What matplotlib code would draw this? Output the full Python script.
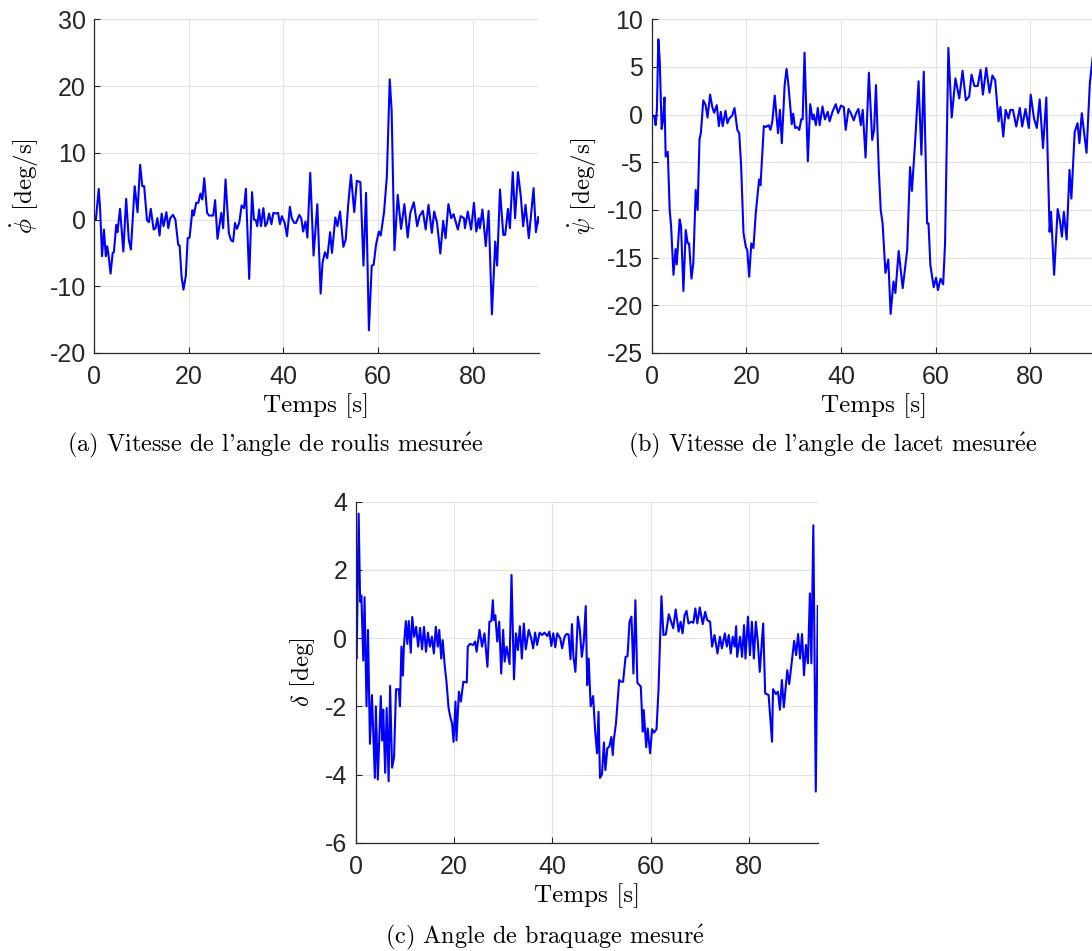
import matplotlib
matplotlib.use('Agg')
import matplotlib.pyplot as plt

# --- data --------------------------------------------------------------
# (a) roll rate [deg/s]
t_roll = [0, 0.4, 1.0, 1.3, 1.7, 2.1, 2.5, 2.8, 3.1, 3.5, 3.95, 4.2, 4.7, 4.95, 5.5, 6.2, 6.8,
          7.35, 7.8, 8.6, 9.2, 9.75, 10.2, 10.6, 11.2, 11.6, 12.0, 12.6, 13.0, 13.4, 13.85, 14.3,
          14.7, 15.3, 15.7, 16.1, 16.7, 17.2, 17.8, 18.1, 18.5, 18.9, 19.4, 19.8, 20.2, 20.8, 21.1,
          21.6, 22.05, 22.5, 22.9, 23.3, 23.9, 24.3, 25.2, 25.6, 26.1, 26.9, 27.3, 27.8, 28.5,
          28.95, 29.4, 29.8, 30.2, 30.7, 31.2, 31.7, 32.1, 32.8, 33.4, 33.8, 34.2, 34.5, 34.9,
          35.3, 35.8, 36.2, 36.6, 37.0, 37.5, 37.9, 38.4, 38.9, 39.3, 39.7, 40.3, 40.8, 41.4,
          41.8, 42.3, 42.7, 43.4, 43.8, 44.2, 44.7, 45.1, 45.7, 46.4, 47.2, 47.9, 48.3, 48.8,
          49.3, 49.9, 50.3, 51.0, 51.45, 52.0, 52.7, 53.2, 53.7, 54.3, 55.0, 55.55, 56.3, 56.95,
          57.5, 58.1, 58.7, 59.1, 59.6, 60.2, 60.6, 61.3, 61.9, 62.5, 62.9, 63.5, 64.2, 64.9,
          65.6, 66.3, 66.85, 67.6, 68.3, 68.8, 69.5, 70.1, 70.7, 71.4, 71.9, 72.5, 73.2, 73.8,
          74.3, 74.9, 75.5, 76.0, 76.9, 77.5, 78.2, 78.4, 79.0, 79.7, 80.3, 80.8, 81.3, 81.55,
          82.1, 82.8, 83.4, 84.1, 84.8, 85.2, 85.8, 86.5, 86.9, 87.5, 87.9, 88.5, 89.0, 89.6,
          90.2, 90.7, 91.2, 91.9, 92.9, 93.4, 93.9, 94.3]
roll_rate = [0, 0, 4.6, 1.5, -5.5, -1.5, -5.5, -4, -5.5, -8.1, -5, -4.9, -0.8, -1.9, 1.6, -4.8,
             3.1, -3, -4.5, 5, 1.1, 8.2, 5, 5, -0.1, -0.4, 1.6, -1.5, -1.3, 0.2, -2.4, 0.9, -1,
             1.1, -1.3, 0.2, 0.7, 0, -3.8, -3.9, -8.5, -10.5, -8.5, -2.8, -2.7, 1.4, 0.6, 2.5,
             2.5, 3.9, 3, 6.2, 1, 0.6, 0.6, 2.9, -2.9, 1, -1.3, 6, -2, -3.1, -3.3, -0.5, -1.4,
             -0.5, 2.1, 1.7, 4.6, -8.9, 4.1, 0, -0.1, -1, 1.5, -1, 1.7, -1, -0.5, 0.9, -0.7, 1,
             0.9, 1, -0.7, 0.5, -0.5, -2.5, 1.9, 0.2, -0.5, -0.5, 0.7, 0.2, -1.8, -0.3, -2.7, 7,
             -5.4, 2.3, -11.1, -6.5, -4.9, -5.8, -1.9, -5, 0.3, -1, 1.2, -4.1, -3, 2, 6.7, 1.1,
             5.8, 5.6, -6.9, 4, -16.6, -6.9, -6.8, -3.8, -1.8, -2.4, 1.1, 6.5, 21, 16.4, -4.6,
             3.7, -1.4, 2.3, -2.7, 1, 2.6, -1, 0.5, 1.3, -1.5, 2.2, -2, 1.2, -0.5, -5.1, -0.2,
             -2.8, 2.3, 0.2, 0.8, -1.5, 0.5, 0.2, -1.3, 1.2, -1.5, 2.5, -1.8, 0.2, -1.3, 1.5, -4,
             1.3, -14.2, -3.3, -6.9, 4.5, -2.3, -2.3, 1.6, -1.3, 7.1, 0.2, 7.1, 3.5, -1, 2.2,
             -2.8, 4.7, -1.9, 0.4, -1]

# (b) yaw rate [deg/s]
t_yaw = [0, 0.56, 0.84, 1.1, 1.4, 1.7, 2.1, 2.4, 2.7, 2.95, 3.4, 3.8, 4.1, 4.6, 5.05, 5.3, 5.9,
         6.2, 6.7, 7.2, 7.6, 7.9, 8.4, 8.8, 9.3, 9.7, 10.1, 10.4, 10.9, 11.4, 11.8, 12.35, 12.8,
         13.2, 13.75, 14.2, 14.6, 15.0, 15.6, 16.0, 16.4, 17.0, 17.5, 18.1, 18.5, 18.9, 19.4,
         19.9, 20.2, 20.6, 21.05, 21.5, 22.0, 22.7, 23.0, 23.7, 24.1, 24.7, 25.1, 25.5, 26.0,
         26.7, 27.1, 27.5, 28.1, 28.5, 28.9, 29.6, 29.9, 30.3, 30.7, 31.2, 31.6, 31.9, 32.3,
         33.0, 33.5, 34.0, 34.25, 34.7, 35.1, 35.5, 36.1, 36.6, 37.2, 37.6, 38.2, 38.9, 39.4,
         40.0, 40.6, 41.0, 41.6, 42.1, 42.7, 43.2, 43.7, 44.2, 44.6, 45.2, 45.9, 46.6, 47.0,
         47.4, 48.0, 48.4, 48.8, 49.4, 50.0, 50.5, 51.1, 51.5, 52.2, 53.05, 54.0, 54.6, 55.0,
         55.7, 56.4, 57.0, 57.5, 58.2, 58.5, 58.9, 59.6, 60.1, 60.5, 61.05, 61.6, 62.0, 62.7,
         63.4, 64.2, 65.0, 65.7, 66.4, 67.1, 67.6, 68.2, 68.9, 69.5, 70.0, 70.7, 71.4, 72.0,
         72.6, 73.3, 73.7, 74.3, 74.8, 75.4, 75.8, 76.35, 77.05, 77.8, 78.3, 79.0, 79.7, 80.1,
         80.8, 81.4, 82.0, 82.7, 83.4, 83.7, 84.1, 84.4, 85.05, 85.8, 86.3, 86.7, 87.1, 87.7,
         88.3, 88.7, 89.4, 90.0, 90.4, 90.9, 91.9, 92.6, 93.2, 94.0]
yaw_rate = [0, -0.2, -1.1, 0.5, 7.9, 5.7, -1.5, -0.6, 1.8, -4.4, -3.9, -10, -11.7, -16.8, -14.1,
            -15.7, -11, -11.7, -18.5, -12.1, -13.5, -13.5, -17.2, -15.6, -7.9, -10, -2.6, -1.9,
            1.5, 1, -0.3, 2.1, 0.8, 0.2, 1, -1.2, 0.3, -1.2, 0.4, -0.9, -0.4, -0.1, 0.7, -1.6,
            -1.95, -5.4, -12.4, -13.9, -14.2, -17, -13.5, -14, -10.3, -6.8, -7.4, -1.2, -1.3,
            -1.1, -1.6, -0.7, 2, -1.95, 0.5, -3, 3.1, 4.8, 3.1, -1, 0.1, -1.4, -1.3, -1.6, -0.5,
            -0.5, 6.5, -4.9, 1.1, -0.5, 0, -1.1, 0.7, -1.1, 0.85, -0.5, 0.3, -0.7, 0.3, 1.1,
            0.15, 0.95, 0.8, -1.6, 0.6, 0.15, -0.6, 0.15, 0.6, -1.1, 0.5, -4.5, 4.4, -2.65, -1.6,
            3.1, -5.8, -10, -11.4, -16.6, -15.2, -20.9, -17.5, -18.7, -14.3, -18.2, -14.2, -5.5,
            -8, -2.65, 3.5, -4.2, 4.5, -11.4, -11.4, -15.8, -18.1, -17.1, -18.4, -17.2, -17.8,
            -13.5, 7, -0.3, 3.8, 1.7, 4.6, 1.5, 1.9, 4.2, 3, 3, 4.7, 2.1, 4.9, 2.3, 4.1, 3.6,
            -0.7, 0.8, -2.3, 0.5, -0.4, 0.5, 0.5, -1.25, 0.7, -1.25, 0.6, -1.4, 2.1, -0.4, -1.4,
            1.6, -3.5, 1.8, -4.6, -12.3, -10.2, -16.8, -9.9, -11.2, -12.8, -10.2, -13.1, -5.8,
            -8.8, -1.8, -0.9, -3, 0.15, -4, 3.3, 6.0, 5.0]

# (c) steering angle [deg]
t_steer = [0, 0.2, 0.6, 0.9, 1.15, 1.55, 1.8, 2.2, 2.5, 2.9, 3.3, 3.9, 4.1, 4.5, 5.1, 5.4, 5.6,
           6.0, 6.3, 6.7, 7.0, 7.4, 7.8, 8.2, 8.75, 9.0, 9.3, 9.6, 9.8, 10.2, 10.5, 10.8, 11.2,
           11.5, 11.9, 12.3, 12.7, 13.1, 13.5, 13.9, 14.3, 14.7, 15.1, 15.5, 15.9, 16.3, 16.7,
           17.0, 17.4, 17.7, 18.1, 18.5, 18.9, 19.3, 19.6, 19.9, 20.3, 20.5, 21.0, 21.4, 21.9,
           22.6, 22.8, 23.25, 23.9, 24.3, 24.6, 25.2, 25.7, 26.2, 26.8, 27.2, 27.6, 27.9, 28.1,
           28.4, 28.8, 29.2, 29.6, 30.0, 30.3, 30.7, 31.3, 31.7, 32.2, 32.6, 33.0, 33.4, 33.8,
           34.2, 34.6, 35.2, 35.7, 36.1, 36.5, 36.9, 37.4, 37.9, 38.4, 39.0, 39.4, 39.8, 40.2,
           40.6, 41.0, 41.6, 42.0, 42.5, 42.9, 43.3, 43.7, 44.0, 44.3, 44.7, 45.2, 45.6, 46.0,
           46.4, 46.8, 47.1, 47.4, 47.8, 48.3, 48.7, 49.1, 49.4, 49.7, 50.1, 50.5, 50.8, 51.2,
           51.6, 52.0, 52.3, 52.5, 52.95, 53.6, 54.0, 54.4, 54.9, 55.3, 55.7, 56.1, 56.5, 56.9,
           57.3, 58.0, 58.4, 58.6, 59.1, 59.4, 59.9, 60.3, 60.7, 61.2, 61.6, 62.2, 62.6, 63.1,
           63.7, 64.1, 64.6, 65.1, 65.7, 66.1, 66.5, 66.9, 67.3, 67.7, 68.3, 68.7, 69.1, 69.5,
           70.0, 70.6, 71.1, 71.5, 72.1, 72.5, 73.0, 73.6, 74.1, 74.5, 75.1, 75.5, 75.9, 76.3,
           76.7, 77.1, 77.4, 77.6, 78.2, 78.6, 79.0, 79.3, 79.8, 80.2, 80.6, 81.0, 81.4, 81.8,
           82.2, 82.9, 83.3, 84.0, 84.7, 84.9, 85.5, 85.9, 86.3, 86.7, 87.1, 87.8, 88.2, 88.8,
           89.2, 89.6, 90.0, 90.4, 90.8, 91.2, 91.6, 92.0, 92.4, 92.7, 93.1, 93.6, 94.0]
steer = [-0.55, -0.6, 3.65, 1.07, 1.25, -0.66, 1.2, -2.0, 0.24, -3.1, -1.67, -4.1, -2.0, -4.15,
         -1.7, -3.0, -2.1, -3.95, -2.05, -4.2, -1.4, -3.8, -3.5, -1.5, -1.5, -2.0, -0.25, -1.1,
         -0.25, 0.5, -0.17, 0.5, -0.43, 0.62, 0.04, 0.33, -0.25, 0.3, -0.33, 0.33, -0.4, 0.16,
         -0.25, 0.04, -0.45, 0.33, -0.25, 0.24, -0.6, -0.06, -0.79, -1.33, -2.06, -2.35, -2.5,
         -3.04, -1.86, -3.0, -1.57, -1.86, -1.28, -1.3, -0.25, -0.17, -0.2, -0.1, -0.4, 0.24,
         -0.25, 0.14, -0.84, 0.48, 0.5, 1.11, 0.53, 0.67, -0.1, 0.48, -1.04, 0.24, -0.69,
         -0.25, -0.76, 1.85, -1.21, 0.14, -0.35, 0.35, -0.6, 0.43, -0.33, 0.24, 0, -0.3, 0.16,
         -0.2, 0.16, 0.09, 0.16, 0.06, 0.19, -0.23, 0.14, -0.27, 0.14, 0, -0.3, 0.04, 0.12,
         0.11, -0.62, 0.41, -0.55, -0.99, 0.63, 0.24, -0.55, -0.1, 0.94, -1.38, -0.6, -2.0,
         -1.7, -2.7, -3.38, -2.16, -4.1, -4.0, -3.06, -3.87, -3.23, -3.18, -2.9, -3.43, -2.99,
         -2.5, -1.23, -1.28, -1.28, -0.55, -0.53, 0.48, 0.63, -1.04, 1.11, -1.31, -1.42,
         -2.74, -2.11, -3.2, -2.65, -3.38, -2.67, -2.77, -2.67, -1.52, 1.23, 0.09, 0.11, 0.7,
         0.51, 0.29, 0.84, 0.19, 0.48, 0.14, 0.67, 0.8, 0.43, 0.48, 0.45, 0.87, 0.43, 0.9,
         0.41, 0.77, 0.53, 0.48, -0.25, 0.09, -0.45, 0.04, -0.3, 0.14, -0.25, 0.09, -0.45,
         0.04, -0.25, 0.35, -0.55, 0.04, -0.55, 0.38, -0.6, 0.63, -0.5, 0.48, -0.6, 0.48, -0.1,
         -0.99, 0.43, -1.62, -1.67, -3.04, -1.5, -1.64, -1.57, -2.1, -1.23, -2.03, -0.94, -1.35,
         -0.6, -0.08, -0.5, 0.12, -0.6, 0.12, -1.09, -0.2, -0.74, 1.31, -0.74, 3.31, -4.5, 0.94]

T_END = 94.05
FIG_W, FIG_H = 1092, 951

TICK_FAMILY = 'Liberation Sans'
SERIF = ['cmr10', 'DejaVu Serif']

plt.rcParams['mathtext.fontset'] = 'cm'
plt.rcParams['axes.unicode_minus'] = False


def px_axes(fig, left, top, right, bottom):
    """Place an axes from pixel edges (origin at top-left of the image)."""
    return fig.add_axes([left / FIG_W, 1 - bottom / FIG_H,
                         (right - left) / FIG_W, (bottom - top) / FIG_H])


def style(ax, t, y, ylim, yticks, ylabel):
    ax.plot(t, y, color='#0000ff', linewidth=1.5)
    ax.set_xlim(0, T_END)
    ax.set_ylim(*ylim)
    ax.set_xticks([0, 20, 40, 60, 80])
    ax.set_yticks(yticks)
    ax.grid(True, color='#e3e3e3', linewidth=0.8)
    ax.set_axisbelow(True)
    for side in ('top', 'right'):
        ax.spines[side].set_visible(False)
    for side in ('left', 'bottom'):
        ax.spines[side].set_color('#262626')
        ax.spines[side].set_linewidth(0.9)
    ax.tick_params(direction='in', length=4, width=0.8, color='#262626')
    ax.tick_params(axis='x', pad=9)
    ax.tick_params(axis='y', pad=6)
    for lab in ax.get_xticklabels() + ax.get_yticklabels():
        lab.set_fontfamily(TICK_FAMILY)
        lab.set_fontsize(18)
        lab.set_color('#262626')
    ax.set_xlabel('Temps [s]', family=SERIF, fontsize=18, labelpad=3)
    ax.set_ylabel(ylabel, family=SERIF, fontsize=18, labelpad=6)


fig = plt.figure(figsize=(FIG_W / 100, FIG_H / 100), dpi=100)

ax_a = px_axes(fig, 94, 19.3, 539, 353)
style(ax_a, t_roll, roll_rate, (-20, 30), range(-20, 31, 10), r'$\dot{\phi}$ [deg/s]')

ax_b = px_axes(fig, 651.7, 19.3, 1096.7, 353)
style(ax_b, t_yaw, yaw_rate, (-25, 10), range(-25, 11, 5), r'$\dot{\psi}$ [deg/s]')

ax_c = px_axes(fig, 355.7, 501.7, 818, 842.7)
style(ax_c, t_steer, steer, (-6, 4), range(-6, 5, 2), r'$\delta$ [deg]')

# sub-figure captions (é drawn with a mathtext accent, cmr10 has no é)
E_ACUTE = r'$\acute{\mathrm{e}}$'
fig.text(275 / FIG_W, 1 - 445 / FIG_H, "(a) Vitesse de l'angle de roulis mesur" + E_ACUTE + "e",
         family=SERIF, fontsize=17.5, ha='center', va='center')
fig.text(833 / FIG_W, 1 - 445 / FIG_H, "(b) Vitesse de l'angle de lacet mesur" + E_ACUTE + "e",
         family=SERIF, fontsize=17.5, ha='center', va='center')
fig.text(545 / FIG_W, 1 - 937 / FIG_H, "(c) Angle de braquage mesur" + E_ACUTE,
         family=SERIF, fontsize=17.5, ha='center', va='center')

fig.savefig('out.png', dpi=100)
